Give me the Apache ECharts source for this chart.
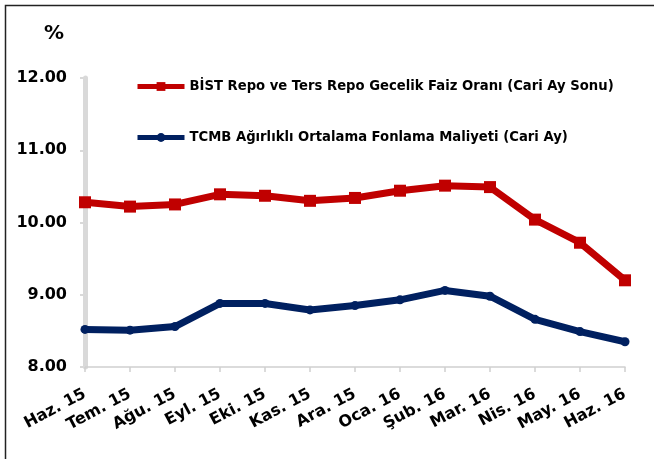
<!DOCTYPE html>
<html>
<head>
<meta charset="utf-8">
<script src="https://cdn.jsdelivr.net/npm/echarts@6/dist/echarts.min.js"></script>
<style>
    html, body { margin: 0; padding: 0; background: #fff; }
    #main-chart { width: 654px; height: 459px; }
</style>
</head>
<body>
<div id="main-chart"></div>
<script>
const months = ['Haz. 15', 'Tem. 15', 'Ağu. 15', 'Eyl. 15', 'Eki. 15', 'Kas. 15', 'Ara. 15',
    'Oca. 16', 'Şub. 16', 'Mar. 16', 'Nis. 16', 'May. 16', 'Haz. 16'];
const bistRepo = [10.28, 10.22, 10.25, 10.39, 10.37, 10.30, 10.34, 10.44, 10.51, 10.49, 10.04, 9.72, 9.20];
const tcmbCost = [8.52, 8.51, 8.56, 8.88, 8.88, 8.79, 8.85, 8.93, 9.06, 8.98, 8.66, 8.49, 8.35];
const yTicks = [8, 9, 10, 11, 12];

const fontName = 'DejaVu Sans';
const seriesNames = ['BİST Repo ve Ters Repo Gecelik Faiz Oranı (Cari Ay Sonu)', 'TCMB Ağırlıklı Ortalama Fonlama Maliyeti (Cari Ay)'];

document.addEventListener('DOMContentLoaded', () => {
    const chartDom = document.getElementById('main-chart');
    const myChart = echarts.init(chartDom);
    const option = {
        animation: false,
        title: {
            text: '%',
            left: 39,
            top: 19,
            textStyle: { fontFamily: fontName, fontWeight: 'bold', fontSize: 20, color: '#000' }
        },
        graphic: [{
            type: 'rect',
            shape: { x: 5.5, y: 5.5, width: 700, height: 500 },
            style: { fill: 'none', stroke: '#222', lineWidth: 1.5 },
            silent: true
        }],
        legend: {
            orient: 'vertical',
            left: 130,
            top: 75,
            itemGap: 38,
            itemWidth: 47,
            itemHeight: 11,
            textStyle: { fontFamily: fontName, fontWeight: 'bold', fontSize: 13.2, color: '#000' },
            data: [
                { name: seriesNames[0], lineStyle: { width: 5 } },
                { name: seriesNames[1], lineStyle: { width: 5 } }
            ]
        },
        grid: { left: 85, right: 29, top: 78, bottom: 92 },
        xAxis: {
            type: 'category',
            boundaryGap: false,
            data: months,
            axisLine: { lineStyle: { color: '#d0d0d0', width: 1.5 } },
            axisTick: { show: true, length: 5, lineStyle: { color: '#d0d0d0', width: 1.5 } },
            axisLabel: {
                interval: 0,
                rotate: 28,
                margin: 26,
                fontFamily: fontName,
                fontWeight: 'bold',
                fontSize: 16,
                color: '#000'
            }
        },
        yAxis: {
            type: 'value',
            min: yTicks[0],
            max: yTicks[yTicks.length - 1],
            interval: 1,
            splitLine: { show: false },
            axisLine: { show: true, lineStyle: { color: '#d9d9d9', width: 5 } },
            axisTick: { show: true, length: 5, lineStyle: { color: '#d9d9d9', width: 2 } },
            axisLabel: {
                margin: 18,
                fontFamily: fontName,
                fontWeight: 'bold',
                fontSize: 16,
                color: '#000',
                formatter: v => v.toFixed(2)
            }
        },
        series: [
            {
                name: seriesNames[0],
                type: 'line',
                data: bistRepo,
                symbol: 'rect',
                symbolSize: 12,
                itemStyle: { color: '#c00000' },
                lineStyle: { color: '#c00000', width: 7 }
            },
            {
                name: seriesNames[1],
                type: 'line',
                data: tcmbCost,
                symbol: 'circle',
                symbolSize: 9,
                itemStyle: { color: '#002060' },
                lineStyle: { color: '#002060', width: 7 }
            }
        ]
    };
    myChart.setOption(option);
});
</script>
</body>
</html>
